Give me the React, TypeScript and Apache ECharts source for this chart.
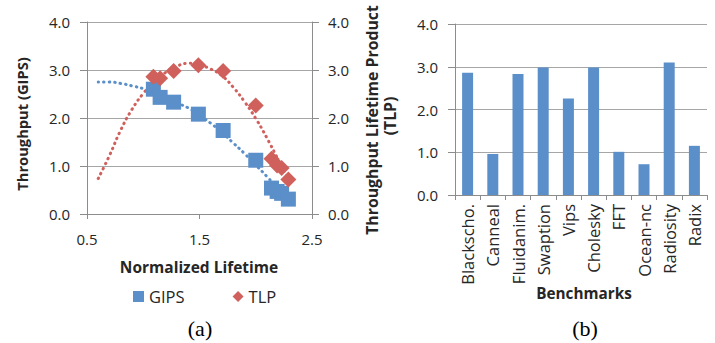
import React, { useEffect, useRef } from "react";
import * as echarts from "echarts";

// ---- data ----
const lifetime = [1.09, 1.15, 1.27, 1.49, 1.71, 2.0, 2.14, 2.19, 2.23, 2.29];
const gips = [2.6, 2.43, 2.33, 2.08, 1.74, 1.12, 0.54, 0.47, 0.43, 0.31];
const tlp = [2.86, 2.83, 2.98, 3.1, 2.98, 2.26, 1.15, 1.01, 0.96, 0.72];

const gipsTrendX = [0.6, 0.7, 0.8, 0.9, 1.0, 1.1, 1.2, 1.3, 1.4, 1.5, 1.6, 1.7, 1.8, 1.9, 2.0, 2.1, 2.2, 2.29];
const gipsTrendY = [2.75, 2.75, 2.72, 2.67, 2.61, 2.52, 2.41, 2.31, 2.21, 2.06, 1.89, 1.7, 1.48, 1.26, 1.02, 0.78, 0.52, 0.3];
const tlpTrendX = [0.6, 0.7, 0.8, 0.9, 1.0, 1.1, 1.2, 1.3, 1.4, 1.5, 1.6, 1.7, 1.8, 1.9, 2.0, 2.1, 2.2, 2.29];
const tlpTrendY = [0.74, 1.22, 1.75, 2.18, 2.51, 2.76, 2.95, 3.08, 3.14, 3.1, 3.02, 2.88, 2.64, 2.34, 1.99, 1.58, 1.13, 0.72];

const benchmarks = ["Blackscho.", "Canneal", "Fluidanim.", "Swaption", "Vips", "Cholesky", "FFT", "Ocean-nc", "Radiosity", "Radix"];
const benchTLP = [2.86, 0.96, 2.83, 2.98, 2.26, 2.98, 1.01, 0.72, 3.1, 1.15];

const BLUE = "#5B8FC9";
const RED = "#D0605B";
const GRID = "#A6A6A6";
const AXIS = "#8C8C8C";
const TXT = "#262626";
const FONT = "Open Sans";

export default function App() {
  const ref = useRef<HTMLDivElement>(null);
  useEffect(() => {
    document.body.style.margin = "0";
    const chart = echarts.init(ref.current!, null, { renderer: "svg" });
    const valAxisLabel = {
      color: TXT,
      fontFamily: FONT,
      fontSize: 15,
      formatter: (v: number) => v.toFixed(1),
    };
    const pair = (xs: number[], ys: number[]) => xs.map((x, i) => [x, ys[i]]);
    const dotted = (c: string) => ({ color: c, width: 3, type: [0.5, 5], cap: "round" as const });
    chart.setOption({
      animation: false,
      backgroundColor: "#fff",
      grid: [
        { left: 87, top: 22, width: 225, height: 192 },
        { left: 455, top: 24, width: 252, height: 171 },
      ],
      xAxis: [
        {
          type: "value",
          gridIndex: 0,
          min: 0.5,
          max: 2.5,
          interval: 1,
          axisLine: { show: true, onZero: false, lineStyle: { color: AXIS } },
          axisTick: { show: true, length: 5, lineStyle: { color: AXIS } },
          splitLine: { show: false },
          axisLabel: { ...valAxisLabel, margin: 17 },
        },
        {
          type: "category",
          gridIndex: 1,
          data: benchmarks,
          axisLine: { show: true, lineStyle: { color: AXIS } },
          axisTick: { show: true, length: 5, alignWithLabel: false, lineStyle: { color: AXIS } },
          axisLabel: { color: TXT, fontFamily: FONT, fontSize: 16.5, rotate: 90, margin: 9, interval: 0 },
        },
      ],
      yAxis: [
        {
          type: "value",
          gridIndex: 0,
          min: 0,
          max: 4,
          interval: 1,
          axisLine: { show: true, lineStyle: { color: AXIS } },
          axisTick: { show: true, length: 7, lineStyle: { color: AXIS } },
          splitLine: { show: true, lineStyle: { color: GRID } },
          axisLabel: { ...valAxisLabel, margin: 17 },
        },
        {
          type: "value",
          gridIndex: 0,
          position: "right",
          min: 0,
          max: 4,
          interval: 1,
          axisLine: { show: true, lineStyle: { color: AXIS } },
          axisTick: { show: true, length: 7, lineStyle: { color: AXIS } },
          splitLine: { show: false },
          axisLabel: { ...valAxisLabel, margin: 16 },
        },
        {
          type: "value",
          gridIndex: 1,
          min: 0,
          max: 4,
          interval: 1,
          axisLine: { show: true, lineStyle: { color: AXIS } },
          axisTick: { show: true, length: 7, lineStyle: { color: AXIS } },
          splitLine: { show: true, lineStyle: { color: GRID } },
          axisLabel: { ...valAxisLabel, margin: 17 },
        },
      ],
      legend: {
        left: 133,
        top: 288,
        padding: 0,
        itemWidth: 11,
        itemHeight: 11,
        itemGap: 48,
        textStyle: { color: TXT, fontFamily: FONT, fontSize: 16.5 },
        data: [
          { name: "GIPS", icon: "rect" },
          { name: "TLP", icon: "diamond" },
        ],
      },
      series: [
        {
          name: "GIPS trend",
          type: "line",
          xAxisIndex: 0,
          yAxisIndex: 0,
          data: pair(gipsTrendX, gipsTrendY),
          smooth: true,
          symbol: "none",
          lineStyle: dotted(BLUE),
          z: 1,
        },
        {
          name: "TLP trend",
          type: "line",
          xAxisIndex: 0,
          yAxisIndex: 1,
          data: pair(tlpTrendX, tlpTrendY),
          smooth: true,
          symbol: "none",
          lineStyle: dotted(RED),
          z: 1,
        },
        {
          name: "GIPS",
          type: "scatter",
          xAxisIndex: 0,
          yAxisIndex: 0,
          data: pair(lifetime, gips),
          symbol: "rect",
          symbolSize: 15,
          itemStyle: { color: BLUE, opacity: 1 },
          z: 3,
        },
        {
          name: "TLP",
          type: "scatter",
          xAxisIndex: 0,
          yAxisIndex: 1,
          data: pair(lifetime, tlp),
          symbol: "diamond",
          symbolSize: 16,
          itemStyle: { color: RED, opacity: 1 },
          z: 4,
        },
        {
          name: "Bench TLP",
          type: "bar",
          xAxisIndex: 1,
          yAxisIndex: 2,
          data: benchTLP,
          barWidth: 11,
          itemStyle: { color: BLUE },
        },
      ],
      graphic: [
        {
          type: "text",
          x: 22,
          y: 124,
          rotation: Math.PI / 2,
          style: { text: "Throughput (GIPS)", fill: TXT, font: `bold 14.7px "${FONT}"`, align: "center", verticalAlign: "middle" },
        },
        {
          type: "text",
          x: 372,
          y: 120,
          rotation: Math.PI / 2,
          style: { text: "Throughput Lifetime Product", fill: TXT, font: `bold 15.8px "${FONT}"`, align: "center", verticalAlign: "middle" },
        },
        {
          type: "text",
          x: 390,
          y: 116,
          rotation: Math.PI / 2,
          style: { text: "(TLP)", fill: TXT, font: `bold 15.8px "${FONT}"`, align: "center", verticalAlign: "middle" },
        },
        {
          type: "text",
          x: 199,
          y: 267,
          style: { text: "Normalized Lifetime", fill: TXT, font: `bold 15.5px "${FONT}"`, align: "center", verticalAlign: "middle" },
        },
        {
          type: "text",
          x: 584,
          y: 293,
          style: { text: "Benchmarks", fill: TXT, font: `bold 15.3px "${FONT}"`, align: "center", verticalAlign: "middle" },
        },
        {
          type: "text",
          x: 200,
          y: 328,
          style: { text: "(a)", fill: "#000", font: `22px "Liberation Serif"`, align: "center", verticalAlign: "middle" },
        },
        {
          type: "text",
          x: 585,
          y: 328,
          style: { text: "(b)", fill: "#000", font: `22px "Liberation Serif"`, align: "center", verticalAlign: "middle" },
        },
      ],
    });
    return () => chart.dispose();
  }, []);
  return <div ref={ref} style={{ width: 715, height: 343 }} />;
}
